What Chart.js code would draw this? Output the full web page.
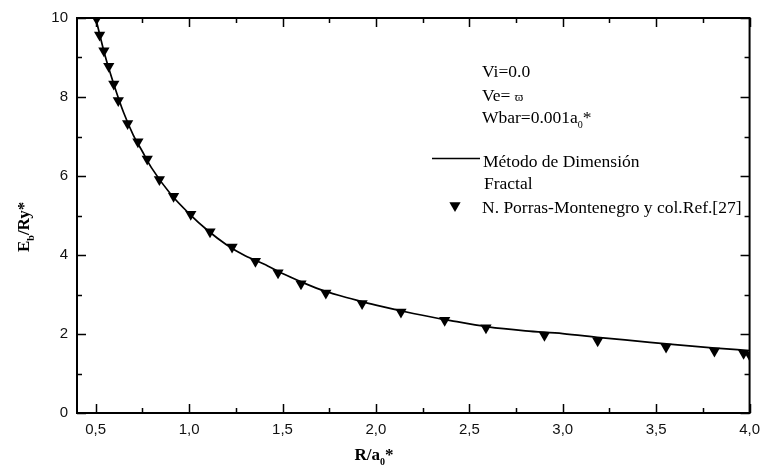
<!DOCTYPE html>
<html>
<head>
<meta charset="utf-8">
<script src="https://cdn.jsdelivr.net/npm/chart.js@4"></script>
<style>
  html, body { margin: 0; padding: 0; background: #fff; }
  #chart { display: block; }
</style>
</head>
<body>
<canvas id="chart" width="768" height="470"></canvas>
<script>
// Fractal dimension method curve (R/a0*, Eb/Ry*)
const lineR = [0.5, 0.55, 0.6, 0.65, 0.7, 0.75, 0.8, 0.9, 1.0, 1.1, 1.2, 1.3, 1.4, 1.5, 1.6, 1.7, 1.8, 1.9, 2.0,
               2.2, 2.4, 2.6, 2.8, 3.0, 3.2, 3.4, 3.6, 3.8, 4.0];
const lineE = [10.0, 9.05, 8.28, 7.6, 7.05, 6.62, 6.2, 5.55, 5.05, 4.62, 4.26, 3.98, 3.77, 3.53, 3.32, 3.13, 2.98, 2.85, 2.73,
               2.52, 2.34, 2.18, 2.08, 2.01, 1.91, 1.82, 1.73, 1.65, 1.58];

// N. Porras-Montenegro reference points
const refR = [0.505, 0.521, 0.544, 0.570, 0.597, 0.621, 0.671, 0.726, 0.776, 0.841, 0.917, 1.009, 1.112, 1.230,
              1.355, 1.476, 1.599, 1.732, 1.926, 2.134, 2.368, 2.589, 2.902, 3.187, 3.553, 3.812, 3.968, 4.0];
const refE = [9.98, 9.57, 9.17, 8.78, 8.33, 7.91, 7.33, 6.87, 6.43, 5.91, 5.49, 5.03, 4.59, 4.20,
              3.84, 3.55, 3.27, 3.04, 2.77, 2.56, 2.35, 2.16, 1.97, 1.83, 1.67, 1.57, 1.51, 1.47];

// Tick values
const xMajor = [0.5, 1.0, 1.5, 2.0, 2.5, 3.0, 3.5, 4.0];
const xMinor = [0.75, 1.25, 1.75, 2.25, 2.75, 3.25, 3.75];
const yMajor = [0, 2, 4, 6, 8, 10];
const yMinor = [1, 3, 5, 7, 9];

const SERIF = '"Liberation Serif", "Times New Roman", serif';
const SANS = '"Liberation Sans", Arial, sans-serif';

// Draw text made of pieces (for subscripts)
function drawParts(ctx, x, y, parts) {
    let cx = x;
    parts.forEach(p => {
        ctx.font = p.font;
        ctx.fillText(p.t, cx, y + (p.dy || 0));
        cx += ctx.measureText(p.t).width;
    });
    return cx - x;
}

function partsWidth(ctx, parts) {
    let w = 0;
    parts.forEach(p => { ctx.font = p.font; w += ctx.measureText(p.t).width; });
    return w;
}

function downTriangle(ctx, x, y, r) {
    ctx.beginPath();
    ctx.moveTo(x, y + r);
    ctx.lineTo(x - r * Math.sqrt(3) / 2, y - r / 2);
    ctx.lineTo(x + r * Math.sqrt(3) / 2, y - r / 2);
    ctx.closePath();
    ctx.fill();
}

// Frame with inward ticks on all four sides
const framePlugin = {
    id: 'frame',
    afterDatasetsDraw(chart) {
        const {ctx, chartArea: a, scales: {x, y}} = chart;
        ctx.save();
        ctx.strokeStyle = '#000';
        ctx.lineWidth = 1.5;
        ctx.beginPath();
        const xt = (vals, len) => vals.forEach(v => {
            const px = Math.round(x.getPixelForValue(v)) + 0.5;
            ctx.moveTo(px, a.bottom); ctx.lineTo(px, a.bottom - len);
            ctx.moveTo(px, a.top); ctx.lineTo(px, a.top + len);
        });
        const yt = (vals, len) => vals.forEach(v => {
            const py = Math.round(y.getPixelForValue(v)) + 0.5;
            ctx.moveTo(a.left, py); ctx.lineTo(a.left + len, py);
            ctx.moveTo(a.right, py); ctx.lineTo(a.right - len, py);
        });
        xt(xMajor, 9); xt(xMinor, 5);
        yt(yMajor, 9); yt(yMinor, 5);
        ctx.stroke();
        ctx.lineWidth = 2;
        ctx.strokeRect(a.left, a.top, a.right - a.left, a.bottom - a.top);
        ctx.restore();
    },
    afterDraw(chart) {
        const ctx = chart.ctx;
        ctx.save();
        ctx.fillStyle = '#000';
        ctx.textBaseline = 'alphabetic';
        ctx.textAlign = 'left';

        // x axis title
        const bold = 'bold 17px ' + SERIF, boldSub = 'bold 10px ' + SERIF;
        const xt = [{t: 'R/a', font: bold}, {t: '0', font: boldSub, dy: 5}, {t: '*', font: bold}];
        drawParts(ctx, 374 - partsWidth(ctx, xt) / 2, 460, xt);

        // y axis title
        ctx.save();
        ctx.translate(29, 252);
        ctx.rotate(-Math.PI / 2);
        drawParts(ctx, 0, 0, [{t: 'E', font: bold}, {t: 'b', font: boldSub, dy: 5}, {t: '/Ry*', font: bold}]);
        ctx.restore();

        // notes and legend
        const reg = '17.5px ' + SERIF, sub = '10px ' + SERIF;
        drawParts(ctx, 482, 77, [{t: 'Vi=0.0', font: reg}]);
        drawParts(ctx, 482, 101, [{t: 'Ve= ', font: reg}, {t: 'ϖ', font: '13px ' + SERIF}]);
        drawParts(ctx, 482, 123, [{t: 'Wbar=0.001a', font: reg}, {t: '0', font: sub, dy: 5}, {t: '*', font: reg}]);

        ctx.strokeStyle = '#000';
        ctx.lineWidth = 1.5;
        ctx.beginPath();
        ctx.moveTo(432, 158.5); ctx.lineTo(480, 158.5);
        ctx.stroke();
        drawParts(ctx, 483, 166.5, [{t: 'Método de Dimensión', font: reg}]);
        drawParts(ctx, 484, 189, [{t: 'Fractal', font: reg}]);
        downTriangle(ctx, 455, 205.5, 6.5);
        drawParts(ctx, 482, 213, [{t: 'N. Porras-Montenegro y col.Ref.[27]', font: reg}]);
        ctx.restore();
    }
};

const ctx = document.getElementById('chart').getContext('2d');
new Chart(ctx, {
    type: 'scatter',
    data: {
        datasets: [
            {
                label: 'Método de Dimensión Fractal',
                data: lineR.map((r, i) => ({x: r, y: lineE[i]})),
                showLine: true,
                borderColor: '#000',
                borderWidth: 1.7,
                pointRadius: 0,
                cubicInterpolationMode: 'monotone',
                clip: 0
            },
            {
                label: 'N. Porras-Montenegro y col.Ref.[27]',
                data: refR.map((r, i) => ({x: r, y: refE[i]})),
                pointStyle: 'triangle',
                rotation: 180,
                pointRadius: 6.5,
                backgroundColor: '#000',
                borderColor: '#000',
                borderWidth: 0,
                clip: 0
            }
        ]
    },
    options: {
        responsive: false,
        animation: false,
        devicePixelRatio: 1,
        layout: { padding: { top: 15, right: 11, left: 0, bottom: 0 } },
        plugins: { legend: { display: false }, tooltip: { enabled: false } },
        scales: {
            x: {
                type: 'linear',
                min: 0.4,
                max: 4.0,
                grid: { display: false, drawTicks: false },
                border: { display: false },
                afterBuildTicks: s => { s.ticks = xMajor.map(v => ({value: v})); },
                afterFit: s => { s.height = 57; },
                ticks: {
                    padding: 8,
                    color: '#111',
                    font: { family: SANS, size: 15 },
                    maxRotation: 0,
                    autoSkip: false,
                    callback: v => v.toFixed(1).replace('.', ',')
                }
            },
            y: {
                type: 'linear',
                min: 0,
                max: 10,
                grid: { display: false, drawTicks: false },
                border: { display: false },
                afterBuildTicks: s => { s.ticks = yMajor.map(v => ({value: v})); },
                afterFit: s => { s.width = 77; },
                ticks: {
                    padding: 9,
                    color: '#111',
                    font: { family: SANS, size: 15 },
                    autoSkip: false,
                    callback: v => String(v)
                }
            }
        }
    },
    plugins: [framePlugin]
});
</script>
</body>
</html>
